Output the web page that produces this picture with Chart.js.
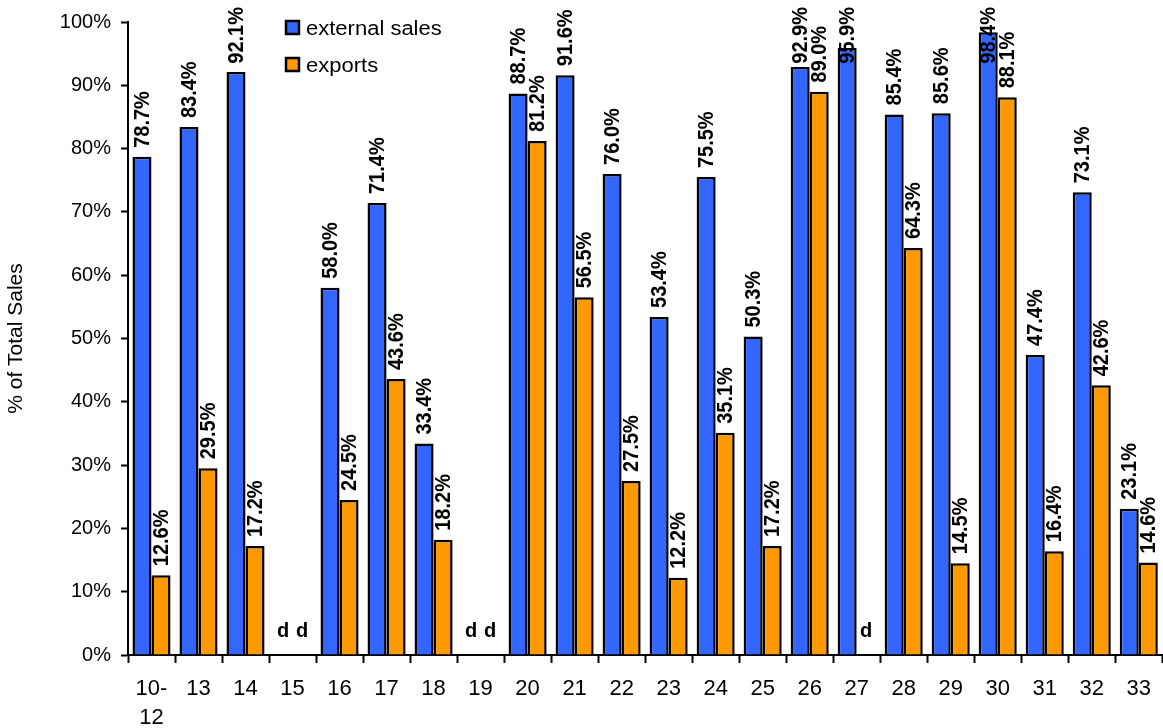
<!DOCTYPE html>
<html>
<head>
<meta charset="utf-8">
<script src="https://cdn.jsdelivr.net/npm/chart.js@4.4.1/dist/chart.umd.min.js"></script>
<style>
  html, body { margin: 0; padding: 0; background: #fff; }
  #wrap { width: 1163px; height: 728px; position: relative; }
</style>
</head>
<body>
<div id="wrap"><canvas id="chart"></canvas></div>
<script>
// Industry codes along the x axis
const categories = [['10-', '12'], '13', '14', '15', '16', '17', '18', '19', '20', '21', '22',
  '23', '24', '25', '26', '27', '28', '29', '30', '31', '32', '33'];

// Share of total sales (%), null = suppressed ("d")
const externalSales = [78.7, 83.4, 92.1, null, 58.0, 71.4, 33.4, null, 88.7, 91.6, 76.0,
  53.4, 75.5, 50.3, 92.9, 95.9, 85.4, 85.6, 98.4, 47.4, 73.1, 23.1];
const exportsShare = [12.6, 29.5, 17.2, null, 24.5, 43.6, 18.2, null, 81.2, 56.5, 27.5,
  12.2, 35.1, 17.2, 89.0, null, 64.3, 14.5, 88.1, 16.4, 42.6, 14.6];

const yTicks = [0, 10, 20, 30, 40, 50, 60, 70, 80, 90, 100];

const FONT = '"Liberation Sans", Arial, sans-serif';
const BLUE = '#3366FF';
const ORANGE = '#FF9900';

// Rotated value labels above each bar, "d" where the value is suppressed
const barLabels = {
  id: 'barLabels',
  afterDatasetsDraw(chart) {
    const { ctx } = chart;
    const yScale = chart.scales.y;
    ctx.save();
    ctx.fillStyle = '#000';
    ctx.font = 'bold 20px ' + FONT;
    chart.data.datasets.forEach((ds, di) => {
      const meta = chart.getDatasetMeta(di);
      meta.data.forEach((bar, i) => {
        const v = ds.data[i];
        if (v === null) {
          ctx.textAlign = 'center';
          ctx.textBaseline = 'middle';
          ctx.fillText('d', bar.x, yScale.getPixelForValue(0) - 24);
          return;
        }
        const text = v.toFixed(1) + '%';
        const len = ctx.measureText(text).width;
        const top = yScale.getPixelForValue(v);
        // keep the label inside the canvas when the bar is tall
        const start = Math.max(top - 9, 7 + len);
        ctx.save();
        ctx.translate(bar.x + 1, start);
        ctx.rotate(-Math.PI / 2);
        ctx.scale(1, 1.06);
        ctx.textAlign = 'left';
        ctx.textBaseline = 'middle';
        ctx.fillText(text, 0, 0);
        ctx.restore();
      });
    });
    ctx.restore();
  }
};

// Legend in the upper left of the plot
const boxLegend = {
  id: 'boxLegend',
  afterDraw(chart) {
    const { ctx } = chart;
    ctx.save();
    chart.data.datasets.forEach((ds, i) => {
      const y = 21 + i * 37;
      ctx.fillStyle = ds.backgroundColor;
      ctx.fillRect(286, y, 13, 13);
      ctx.strokeStyle = '#000';
      ctx.lineWidth = 2.5;
      ctx.strokeRect(286, y, 13, 13);
      ctx.save();
      ctx.translate(306, y + 14);
      ctx.scale(1.1, 1);
      ctx.font = '20px ' + FONT;
      ctx.textAlign = 'left';
      ctx.textBaseline = 'alphabetic';
      ctx.fillStyle = '#000';
      ctx.fillText(ds.label, 0, 0);
      ctx.restore();
    });
    ctx.restore();
  }
};

new Chart(document.getElementById('chart'), {
  type: 'bar',
  data: {
    labels: categories,
    datasets: [
      {
        label: 'external sales',
        data: externalSales,
        backgroundColor: BLUE,
        borderColor: '#000',
        borderWidth: 2.5,
        borderSkipped: 'bottom'
      },
      {
        label: 'exports',
        data: exportsShare,
        backgroundColor: ORANGE,
        borderColor: '#000',
        borderWidth: 2.5,
        borderSkipped: 'bottom'
      }
    ]
  },
  options: {
    responsive: true,
    maintainAspectRatio: false,
    animation: false,
    layout: { padding: { top: 21, right: 0, left: 0, bottom: 0 } },
    datasets: {
      bar: { categoryPercentage: 0.81, barPercentage: 1.0 }
    },
    scales: {
      x: {
        offset: true,
        grid: {
          display: true,
          offset: true,
          drawOnChartArea: false,
          drawTicks: true,
          tickLength: 8,
          tickWidth: 2,
          color: '#000'
        },
        border: { display: true, color: '#000', width: 2 },
        ticks: {
          color: '#000',
          font: { family: FONT, size: 22, lineHeight: 1.3 },
          padding: 12,
          maxRotation: 0,
          autoSkip: false
        },
        afterFit(scale) { scale.height = 73; }
      },
      y: {
        min: 0,
        max: 100,
        afterBuildTicks(scale) { scale.ticks = yTicks.map(v => ({ value: v })); },
        grid: {
          display: true,
          drawOnChartArea: false,
          drawTicks: true,
          tickLength: 7,
          tickWidth: 2,
          color: '#000'
        },
        border: { display: true, color: '#000', width: 2 },
        ticks: {
          color: '#000',
          font: { family: FONT, size: 20 },
          padding: 10,
          callback: v => v + '%'
        },
        title: {
          display: true,
          text: '% of Total Sales',
          color: '#000',
          font: { family: FONT, size: 21 },
          padding: { top: 4, bottom: 0 }
        },
        afterFit(scale) { scale.width = 128; }
      }
    },
    plugins: {
      legend: { display: false },
      tooltip: { enabled: false }
    }
  },
  plugins: [barLabels, boxLegend]
});
</script>
</body>
</html>
